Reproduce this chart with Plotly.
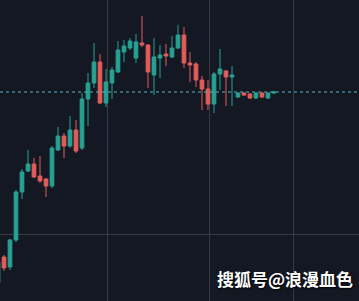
import plotly.graph_objects as go

# Candle index (one per bar)
idx = list(range(-1, 46))

# Prices (arbitrary units)
opens  = [18, 44, 34, 61, 109, 130, 137, 125, 122, 115, 151, 165, 155, 171, 153, 202, 218, 239, 198, 218, 229, 249, 253, 243, 258, 256, 226, 243, 247, 244, 253, 266, 238, 237, 221, 212, 197, 227, 230, 224, 204, 208, 207, 203, 208, 203, 208]
highs  = [43, 46, 62, 111, 132, 151, 143, 145, 123, 155, 174, 168, 185, 181, 208, 228, 258, 247, 232, 234, 260, 261, 263, 267, 285, 257, 263, 256, 257, 265, 276, 274, 249, 239, 225, 221, 229, 252, 231, 235, 209, 209, 208, 209, 209, 209, 210]
lows   = [11, 30, 31, 59, 102, 129, 123, 118, 104, 113, 150, 143, 153, 148, 151, 175, 213, 197, 194, 202, 228, 239, 251, 238, 254, 213, 206, 223, 235, 243, 252, 233, 219, 214, 191, 191, 188, 211, 195, 195, 203, 205, 202, 202, 203, 202, 207]
closes = [39, 33, 61, 109, 129, 137, 124, 120, 115, 153, 165, 155, 171, 150, 202, 218, 239, 198, 219, 231, 251, 255, 260, 259, 256, 229, 244, 246, 245, 253, 266, 238, 236, 221, 212, 197, 227, 232, 224, 226, 208, 206, 203, 208, 204, 208, 209]

# Vertical grid positions (in bar-index units)
vgrid = [17.17, 34.17, 48.17]
hgrid = [67]

watermark = "搜狐号@浪漫血色"

BG = "#141823"
GREEN = "#27a192"
RED = "#e25c5a"

fig = go.Figure(go.Candlestick(
    x=idx, open=opens, high=highs, low=lows, close=closes,
    increasing=dict(line=dict(color=GREEN, width=1), fillcolor=GREEN),
    decreasing=dict(line=dict(color=RED, width=1), fillcolor=RED),
    whiskerwidth=0,
    hoverinfo="skip",
))

fig.add_hline(y=closes[-1], line=dict(color="#5ab4bd", width=1, dash="dot"))

fig.add_annotation(
    text=watermark, xref="paper", yref="paper", x=0.99, y=0.025,
    xanchor="right", yanchor="bottom", showarrow=False,
    font=dict(family="Noto Sans CJK SC", size=17, color="#ffffff",
              weight="bold", shadow="1px 1px 2px #000000"),
)

fig.update_layout(
    width=359, height=301,
    margin=dict(l=0, r=0, t=0, b=0),
    paper_bgcolor=BG, plot_bgcolor=BG,
    showlegend=False,
    boxgap=0.12,
    xaxis=dict(range=[-0.667, 59.17], rangeslider=dict(visible=False),
               tickvals=vgrid, showticklabels=False, showgrid=True,
               gridcolor="#363a46", gridwidth=1, zeroline=False, ticks=""),
    yaxis=dict(range=[0, 301], tickvals=hgrid, showticklabels=False,
               showgrid=True, gridcolor="#363a46", gridwidth=1,
               zeroline=False, ticks=""),
)

fig.write_html("out.html", config=dict(displayModeBar=False))
